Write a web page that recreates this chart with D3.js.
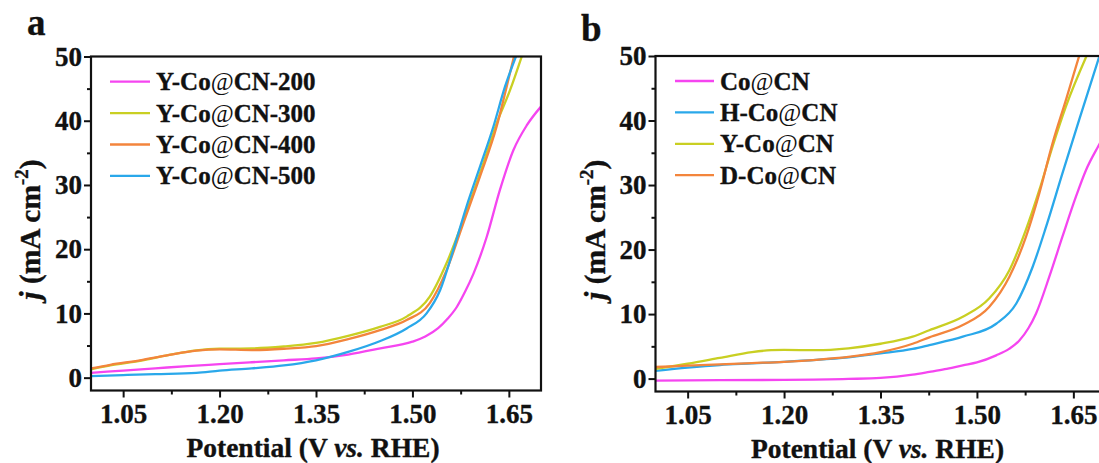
<!DOCTYPE html>
<html>
<head>
<meta charset="utf-8">
<script src="https://cdn.jsdelivr.net/npm/d3@7"></script>
<style>
  body { margin: 0; background: #fff; }
  svg { display: block; }
  svg text { font-family: "Liberation Serif", Tinos, "Times New Roman", "Nimbus Roman", "DejaVu Serif", serif; font-weight: bold; stroke: #111; stroke-width: 0.35px; }
</style>
</head>
<body>
<div id="chart"></div>
<script>
// ---- data: [potential (V vs RHE), j (mA cm^-2)] ----
// panel a
var yCo200 = [[1.00,0.75],[1.05,1.1],[1.10,1.45],[1.15,1.8],[1.20,2.1],[1.25,2.4],[1.30,2.7],[1.35,3.0],[1.40,3.6],[1.45,4.55],[1.50,5.6],[1.52,6.4],[1.54,7.7],[1.555,9.2],[1.569,11.0],[1.582,13.4],[1.595,16.2],[1.6155,21.9],[1.636,29.2],[1.657,35.4],[1.678,39.3],[1.70,42.2]];
var yCo300 = [[1.00,1.3],[1.03,1.9],[1.076,2.6],[1.12,3.5],[1.164,4.25],[1.20,4.5],[1.25,4.55],[1.30,4.85],[1.35,5.4],[1.40,6.5],[1.4495,7.9],[1.491,9.5],[1.527,12.6],[1.553,17.8],[1.579,24.5],[1.605,31.8],[1.631,39.6],[1.652,44.8],[1.670,50]];
var yCo400 = [[1.00,1.45],[1.03,2.0],[1.076,2.7],[1.12,3.5],[1.164,4.2],[1.20,4.4],[1.25,4.3],[1.30,4.5],[1.35,4.9],[1.40,6.0],[1.4495,7.4],[1.491,8.96],[1.527,11.6],[1.553,16.7],[1.579,24.0],[1.605,31.3],[1.631,39.1],[1.6466,45.3],[1.658,50]];
var yCo500 = [[1.00,0.25],[1.05,0.4],[1.10,0.55],[1.164,0.75],[1.20,1.1],[1.25,1.45],[1.30,1.9],[1.35,2.7],[1.40,4.0],[1.45,5.7],[1.491,7.66],[1.522,10.0],[1.543,13.6],[1.5636,19.9],[1.584,26.6],[1.605,32.8],[1.626,39.1],[1.644,45.3],[1.661,50]];
// panel b
var coCN = [[1.00,-0.3],[1.10,-0.25],[1.20,-0.2],[1.30,-0.05],[1.35,0.1],[1.40,0.6],[1.426,1.03],[1.45,1.45],[1.478,2.06],[1.50,2.5],[1.53,3.6],[1.55,4.6],[1.566,5.9],[1.58,7.8],[1.592,10.1],[1.6126,15.8],[1.633,22.0],[1.654,28.2],[1.6696,32.3],[1.6887,36.0],[1.70,38.0]];
var hCoCN = [[1.00,1.2],[1.05,1.7],[1.10,2.1],[1.15,2.35],[1.20,2.6],[1.25,2.9],[1.30,3.3],[1.35,3.9],[1.40,4.6],[1.426,5.2],[1.478,6.5],[1.53,8.5],[1.561,11.6],[1.5866,17.3],[1.6075,23.5],[1.633,31.8],[1.659,40.1],[1.6887,49.4],[1.70,53]];
var yCoCN = [[1.00,1.5],[1.05,2.3],[1.10,3.2],[1.15,4.1],[1.18,4.4],[1.20,4.45],[1.25,4.4],[1.30,4.7],[1.35,5.4],[1.40,6.5],[1.426,7.5],[1.478,9.57],[1.519,12.4],[1.5505,16.8],[1.576,23.0],[1.597,29.2],[1.6177,36.0],[1.6385,42.2],[1.6705,50]];
var dCoCN = [[1.00,1.8],[1.05,2.0],[1.10,2.2],[1.15,2.4],[1.20,2.6],[1.25,2.9],[1.30,3.35],[1.35,4.1],[1.40,5.4],[1.426,6.4],[1.478,8.3],[1.519,11.1],[1.5505,15.8],[1.5764,22.0],[1.597,28.7],[1.6177,36.5],[1.6385,43.2],[1.659,50]];

var namesA = ["Y-Co@CN-200", "Y-Co@CN-300", "Y-Co@CN-400", "Y-Co@CN-500"];
var namesB = ["Co@CN", "H-Co@CN", "Y-Co@CN", "D-Co@CN"];

var xTicks = [1.05, 1.20, 1.35, 1.50, 1.65];
var xMinor = [1.125, 1.275, 1.425, 1.575];
var yTicks = [0, 10, 20, 30, 40, 50];
var yMinor = [5, 15, 25, 35, 45];

var pink = "#f545f0", yellow = "#c9cf22", orange = "#f3853c", blue = "#2aa8ea";

var W = 1099, H = 463;

var svg = d3.select("#chart")
  .append("svg")
    .attr("width", W)
    .attr("height", H);

// one panel
function drawPanel(cfg) {
  var g = svg.append("g")
    .attr("transform", "translate(" + cfg.left + "," + cfg.top + ")");

  var x = d3.scaleLinear().domain([1.0, 1.7]).range([0, cfg.width]);
  var y = d3.scaleLinear().domain([-2, 50]).range([cfg.height, 0]);

  g.append("clipPath").attr("id", "clip" + cfg.id)
    .append("rect").attr("width", cfg.width).attr("height", cfg.height);

  var line = d3.line()
    .x(function(d){ return x(d[0]) })
    .y(function(d){ return y(d[1]) })
    .curve(d3.curveMonotoneX);

  g.append("g").attr("clip-path", "url(#clip" + cfg.id + ")")
    .selectAll("path")
    .data(cfg.series)
    .enter()
    .append("path")
      .attr("d", function(s){ return line(s.data) })
      .attr("fill", "none")
      .attr("stroke", function(s){ return s.color })
      .attr("stroke-width", 2.3)
      .attr("stroke-linejoin", "round");

  // axes: major + minor ticks, outward
  var xa = g.append("g").attr("transform", "translate(0," + cfg.height + ")")
    .call(d3.axisBottom(x).tickValues(xTicks).tickSize(7).tickPadding(6).tickFormat(d3.format(".2f")));
  var xm = g.append("g").attr("transform", "translate(0," + cfg.height + ")")
    .call(d3.axisBottom(x).tickValues(xMinor).tickSize(4).tickFormat(""));
  var ya = g.append("g")
    .call(d3.axisLeft(y).tickValues(yTicks).tickSize(7).tickPadding(2));
  var ym = g.append("g")
    .call(d3.axisLeft(y).tickValues(yMinor).tickSize(4).tickFormat(""));

  [xa, xm, ya, ym].forEach(function(a){
    a.attr("font-family", null).attr("font-size", null);
    a.select(".domain").remove();
    a.selectAll("line").attr("stroke", "#111").attr("stroke-width", 2);
    a.selectAll("text").attr("fill", "#111").style("font-size", "27px");
  });

  // frame
  g.append("rect")
    .attr("width", cfg.width)
    .attr("height", cfg.height)
    .attr("fill", "none")
    .attr("stroke", "#111")
    .attr("stroke-width", 2.2);

  // axis titles
  g.append("text")
    .attr("x", cfg.width / 2 - 3)
    .attr("y", cfg.height + 66)
    .attr("text-anchor", "middle")
    .style("font-size", "27.5px")
    .attr("fill", "#111")
    .call(function(t){
      t.append("tspan").text("Potential (V ");
      t.append("tspan").style("font-style", "italic").text("vs.");
      t.append("tspan").text(" RHE)");
    });

  var yt = g.append("text")
    .attr("transform", "translate(-51," + (cfg.height / 2 + 6) + ") rotate(-90)")
    .attr("text-anchor", "middle")
    .style("font-size", "29.5px")
    .attr("fill", "#111");
  yt.append("tspan").style("font-style", "italic").text("j");
  yt.append("tspan").text(" (mA cm");
  yt.append("tspan").attr("dy", -12).style("font-size", "19px").text("-2");
  yt.append("tspan").attr("dy", 12).text(")");

  // legend
  var lg = g.selectAll(".leg")
    .data(cfg.series)
    .enter()
    .append("g")
      .attr("transform", function(s, i){ return "translate(" + cfg.legX + "," + (cfg.legY + i * 31.4) + ")" });
  lg.append("line")
    .attr("x1", 0).attr("x2", cfg.legLen)
    .attr("stroke", function(s){ return s.color })
    .attr("stroke-width", 2.3);
  lg.append("text")
    .attr("x", cfg.legLen + 6)
    .attr("y", 8.5)
    .style("font-size", "25px")
    .attr("fill", "#111")
    .each(function(s){
      var parts = s.name.split("@");
      var t = d3.select(this);
      t.append("tspan").text(parts[0]);
      t.append("tspan").style("font-weight", "normal").style("stroke-width", "0").text("@");
      t.append("tspan").text(parts[1]);
    });

  // panel letter
  svg.append("text")
    .attr("x", cfg.letterX)
    .attr("y", cfg.letterY)
    .style("font-size", "37px")
    .attr("fill", "#111")
    .text(cfg.letter);
}

drawPanel({
  id: "a", letter: "a", letterX: 27, letterY: 35,
  left: 91, top: 56.5, width: 450, height: 334,
  legX: 19, legY: 25.2, legLen: 40,
  series: [
    {name: namesA[0], data: yCo200, color: pink},
    {name: namesA[1], data: yCo300, color: yellow},
    {name: namesA[2], data: yCo400, color: orange},
    {name: namesA[3], data: yCo500, color: blue}
  ]
});

drawPanel({
  id: "b", letter: "b", letterX: 581, letterY: 41,
  left: 655.5, top: 56, width: 450, height: 335.5,
  legX: 19.5, legY: 25, legLen: 39,
  series: [
    {name: namesB[0], data: coCN, color: pink},
    {name: namesB[1], data: hCoCN, color: blue},
    {name: namesB[2], data: yCoCN, color: yellow},
    {name: namesB[3], data: dCoCN, color: orange}
  ]
});
</script>
</body>
</html>
